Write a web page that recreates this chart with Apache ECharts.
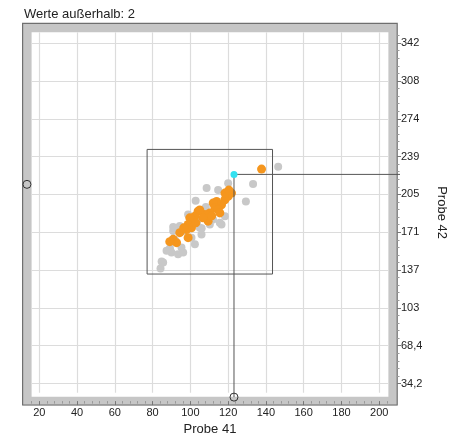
<!DOCTYPE html>
<html><head><meta charset="utf-8">
<script src="https://cdn.jsdelivr.net/npm/echarts@6/dist/echarts.min.js"></script>
<style>html,body{margin:0;padding:0;background:#fff}#c{width:463px;height:441px}</style>
</head><body><div id="c"></div>
<script>
const titleText = 'Werte außerhalb: 2';
const xName = 'Probe 41';
const yName = 'Probe 42';
const xRange = [16, 204.8];
const yRange = [25.8, 351.8];
const xTicks = [20, 40, 60, 80, 100, 120, 140, 160, 180, 200];
const xTickLabels = ['20', '40', '60', '80', '100', '120', '140', '160', '180', '200'];
const xMinorTicks = [16, 24, 28, 32, 36, 44, 48, 52, 56, 64, 68, 72, 76, 84, 88, 92, 96, 104, 108, 112, 116,
  124, 128, 132, 136, 144, 148, 152, 156, 164, 168, 172, 176, 184, 188, 192, 196, 204];
const yTicks = [34.2, 68.4, 102.6, 136.8, 171, 205.2, 239.4, 273.6, 307.8, 342];
const yTickLabels = ['34,2', '68,4', '103', '137', '171', '205', '239', '274', '308', '342'];
const yMinorStep = 6.84;

const grayPoints = [
  [146.5, 230.3], [133.2, 214.7], [129.4, 198.9], [120, 215.3], [114.7, 209.3], [108.6, 210.9],
  [102.8, 199.5], [108.2, 193.9], [115.6, 179.5], [118.3, 185.5], [105.9, 169], [102.4, 160.1],
  [90.9, 172.1], [94.4, 176.6], [87.4, 154.2], [90, 152.7], [93.5, 151.1], [96.2, 152.7],
  [85.6, 143.7], [84.2, 138.3], [105, 175], [100.6, 166.1], [95.3, 157.1], [98.8, 187],
  [110.3, 178], [116.5, 177.9], [96.6, 172.4], [84.8, 144.5], [89.2, 156.5], [91.8, 164.3],
  [106, 174.5], [90.9, 175.8], [112, 182.5], [103.5, 180.5]
];
const orangePoints = [
  [137.7, 228.1], [121.8, 206.4], [120, 203.4], [118.3, 200.4], [116.5, 195.9], [113.9, 198.9],
  [112.1, 197.4], [113, 193], [114.7, 191.5], [110.3, 188.5], [107.7, 187], [109.4, 181],
  [104.1, 190], [102.4, 185.5], [100.6, 182.5], [99.7, 184], [98.8, 178], [100.6, 175],
  [98, 173.5], [94.4, 170.6], [98.8, 166.1], [90.9, 164.6], [92.7, 161.6], [115.6, 188.5],
  [118.3, 206.4], [120.4, 209.1], [105, 191.2], [106.6, 184], [111.3, 185.8], [102.9, 179.5],
  [96.5, 175], [89.1, 162.5]
];
const selectedPoint = [[123.1, 223.3]];
const crosshair = [[211, 223.3], [123.1, 223.3], [123.1, 21.9]];
const boxX = [77.1, 143.5];
const boxY = [133.2, 245.9];
const edgeMarkers = [[13.5, 214.3], [123.1, 21.9]];

const yMinorTicks = [];
for (let k = 1; k <= 46; k++) { if (k % 5 !== 0) yMinorTicks.push(+(yTicks[0] + k * yMinorStep).toFixed(2)); }
const boxPath = [[boxX[0], boxY[0]], [boxX[1], boxY[0]], [boxX[1], boxY[1]], [boxX[0], boxY[1]], [boxX[0], boxY[0]]];

function lab(ticks, labels) {
  return function (v) {
    for (let i = 0; i < ticks.length; i++) if (Math.abs(ticks[i] - v) < 1e-6) return labels[i];
    return '';
  };
}
function polylineSeries(points, z, color) {
  return {
    type: 'custom', z: z, silent: true, clip: false, data: [0],
    renderItem: function (params, api) {
      return {type: 'polyline', shape: {points: points.map(p => api.coord(p))},
        style: {stroke: color, lineWidth: 1, fill: null}};
    }
  };
}
const FONT = 'Liberation Sans, Arial, sans-serif';
const chart = echarts.init(document.getElementById('c'), null, {renderer: 'canvas'});
const tickColor = '#777';
const gridLineStyle = {color: '#dcdcdc', width: 1.2, type: 'solid'};
chart.setOption({
  animation: false,
  backgroundColor: '#fff',
  title: {text: titleText, left: 24, top: 8, padding: 0,
    textStyle: {fontSize: 13, fontWeight: 'normal', color: '#222', fontFamily: FONT}},
  grid: {left: 31.7, right: 463 - 388.3, top: 32.3, bottom: 44.3, containLabel: false},
  graphic: {
    z: 0,
    elements: [
      {type: 'rect', silent: true, shape: {x: 27.2, y: 27.8, width: 365.6, height: 373.3},
        style: {fill: null, stroke: '#c6c6c6', lineWidth: 8.8}},
      {type: 'rect', silent: true, shape: {x: 22.6, y: 23.3, width: 374.6, height: 381.7},
        style: {fill: null, stroke: '#6f6f6f', lineWidth: 1.2}}
    ]
  },
  xAxis: [
    {type: 'value', min: xRange[0], max: xRange[1], position: 'bottom', offset: 8.3,
      axisLine: {show: false},
      axisTick: {show: true, length: 4, customValues: xTicks, lineStyle: {color: tickColor}},
      axisLabel: {customValues: xTicks, formatter: lab(xTicks, xTickLabels), margin: 6,
        fontSize: 11, color: '#222', fontFamily: FONT},
      splitLine: {show: false}, minorSplitLine: {show: false},
      name: xName, nameLocation: 'middle', nameGap: 21,
      nameTextStyle: {fontSize: 13, color: '#222', fontFamily: FONT}},
    {type: 'value', min: xRange[0], max: xRange[1], position: 'bottom', offset: 8.3,
      axisLine: {show: false},
      axisTick: {show: true, length: 2.5, customValues: xMinorTicks, lineStyle: {color: '#999'}},
      axisLabel: {show: false}, splitLine: {show: false}, minorSplitLine: {show: false}}
  ],
  yAxis: [
    {type: 'value', min: yRange[0], max: yRange[1], position: 'right', offset: 8.7,
      axisLine: {show: false},
      axisTick: {show: true, length: 4, customValues: yTicks, lineStyle: {color: tickColor}},
      axisLabel: {customValues: yTicks, formatter: lab(yTicks, yTickLabels), margin: 4,
        padding: [4, 0, 0, 0],
        fontSize: 11, color: '#222', fontFamily: FONT},
      splitLine: {show: false}, minorSplitLine: {show: false},
      name: yName, nameLocation: 'middle', nameRotate: -90, nameGap: 38,
      nameTextStyle: {fontSize: 13, color: '#222', fontFamily: FONT}},
    {type: 'value', min: yRange[0], max: yRange[1], position: 'right', offset: 8.7,
      axisLine: {show: false},
      axisTick: {show: true, length: 2.5, customValues: yMinorTicks, lineStyle: {color: '#999'}},
      axisLabel: {show: false}, splitLine: {show: false}, minorSplitLine: {show: false}}
  ],
  series: [
    {type: 'line', z: 2, data: [], silent: true,
      markLine: {silent: true, symbol: 'none', label: {show: false}, lineStyle: gridLineStyle,
        animation: false,
        data: xTicks.map(v => ({xAxis: v})).concat(yTicks.map(v => ({yAxis: v})))}},
    polylineSeries(boxPath, 5, '#555'),
    {type: 'scatter', z: 6, data: grayPoints, symbolSize: 8, itemStyle: {color: '#c8c8c8', opacity: 1}},
    {type: 'scatter', z: 7, data: orangePoints, symbolSize: 9, itemStyle: {color: '#f5961e', opacity: 1}},
    polylineSeries(crosshair, 8, '#555'),
    {type: 'scatter', z: 9, data: selectedPoint, symbolSize: 7, itemStyle: {color: '#33e1f0', opacity: 1}},
    {type: 'custom', z: 9, silent: true, clip: false, data: edgeMarkers,
      renderItem: function (params, api) {
        const p = api.coord([api.value(0), api.value(1)]);
        return {type: 'circle', shape: {cx: p[0], cy: p[1], r: 4},
          style: {fill: null, stroke: '#333', lineWidth: 1}};
      }}
  ]
});
</script>
</body></html>
